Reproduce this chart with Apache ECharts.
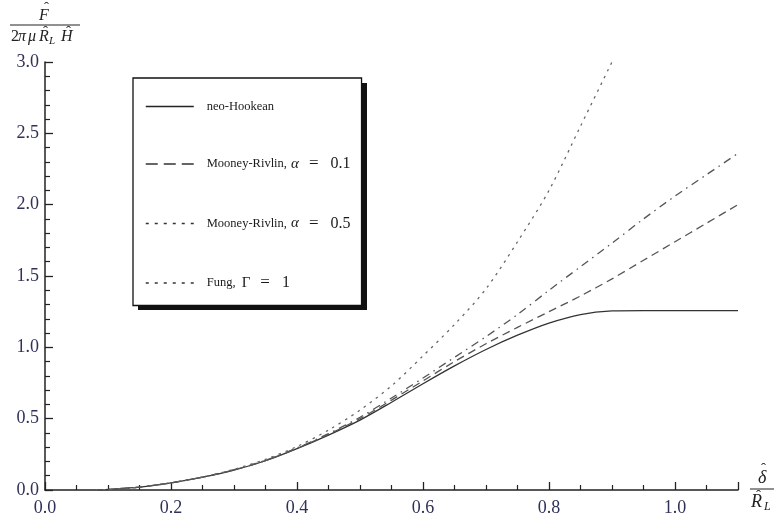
<!DOCTYPE html>
<html>
<head>
<meta charset="utf-8">
<script src="https://cdn.jsdelivr.net/npm/echarts@6/dist/echarts.min.js"></script>
<style>html,body{margin:0;padding:0;background:#fff;}#c{width:774px;height:521px;}</style>
</head>
<body>
<div id="c"></div>
<script>
// x values (δ̂ / R̂_L)
const xNeo = [0.08, 0.1, 0.15, 0.2, 0.25, 0.3, 0.35, 0.4, 0.45, 0.5, 0.55, 0.6, 0.65, 0.7, 0.75, 0.8, 0.85, 0.9, 0.95, 1.0, 1.05, 1.1];
const yNeo = [0, 0.004, 0.02, 0.05, 0.09, 0.14, 0.205, 0.29, 0.385, 0.49, 0.615, 0.745, 0.87, 0.985, 1.085, 1.17, 1.23, 1.255, 1.258, 1.258, 1.258, 1.258];
const xMR01 = [0.08, 0.1, 0.15, 0.2, 0.25, 0.3, 0.35, 0.4, 0.45, 0.5, 0.55, 0.6, 0.65, 0.7, 0.75, 0.8, 0.85, 0.9, 0.95, 1.0, 1.05, 1.1];
const yMR01 = [0, 0.004, 0.02, 0.05, 0.09, 0.141, 0.206, 0.292, 0.39, 0.5, 0.63, 0.765, 0.9, 1.025, 1.14, 1.25, 1.36, 1.48, 1.61, 1.74, 1.87, 2.0];
const xMR05 = [0.08, 0.1, 0.15, 0.2, 0.25, 0.3, 0.35, 0.4, 0.45, 0.5, 0.55, 0.6, 0.65, 0.7, 0.75, 0.8, 0.85, 0.9, 0.95, 1.0, 1.05, 1.1];
const yMR05 = [0, 0.004, 0.02, 0.05, 0.09, 0.142, 0.208, 0.295, 0.395, 0.51, 0.645, 0.785, 0.93, 1.075, 1.23, 1.4, 1.565, 1.73, 1.9, 2.06, 2.21, 2.36];
const xFung = [0.08, 0.1, 0.15, 0.2, 0.25, 0.3, 0.35, 0.4, 0.45, 0.5, 0.55, 0.6, 0.65, 0.7, 0.75, 0.8, 0.85, 0.9];
const yFung = [0, 0.004, 0.02, 0.05, 0.09, 0.145, 0.215, 0.305, 0.42, 0.56, 0.73, 0.94, 1.16, 1.41, 1.74, 2.1, 2.55, 3.0];
const xTicks = ['0.0', '0.2', '0.4', '0.6', '0.8', '1.0'];
const yTicks = ['0.0', '0.5', '1.0', '1.5', '2.0', '2.5', '3.0'];
const names = ['neo-Hookean', 'Mooney-Rivlin, α = 0.1', 'Mooney-Rivlin, α = 0.5', 'Fung, Γ = 1'];

const zip = (xs, ys) => xs.map((x, i) => [x, ys[i]]);
const serif = 'Liberation Serif';
const labelColor = '#2f3158';
const ink = '#1a1a1a';

const chart = echarts.init(document.getElementById('c'), null, {renderer: 'canvas'});
function mkSeries(name, data, color, width, dash) {
  return {
    name: name, type: 'line', data: data, smooth: 0.3, symbol: 'none', showSymbol: false,
    lineStyle: {color: color, width: width, type: dash},
    itemStyle: {color: color},
    z: 2
  };
}
function legendFmt(n) {
  if (n.indexOf(' = ') >= 0) {
    const p = n.split(' = ');
    const head = p[0];
    const sym = head.slice(-1);
    const text = head.slice(0, -1);
    const symStyle = sym === 'α' ? 'i' : 'g';
    return '{n|' + text + '}{' + symStyle + '|' + sym + '}{eq|=}{m|' + p[1] + '}';
  }
  return '{n|' + n + '}';
}
function tx(text, left, top, font) {
  return {type: 'text', left: left, top: top, z: 5, style: {text: text, font: font, fill: '#222'}};
}
const it16 = 'italic 16px "Liberation Serif"';
const rm16 = '16px "Liberation Serif"';
const it18 = 'italic 18px "Liberation Serif"';
const it11 = 'italic 11px "Liberation Serif"';
const it12 = 'italic 12px "Liberation Serif"';
const hat = '15px "Liberation Serif"';

chart.setOption({
  animation: false,
  backgroundColor: '#fff',
  grid: {left: 45, right: 36, top: 62, bottom: 31, containLabel: false},
  xAxis: {
    type: 'value', min: 0, max: 1.1, interval: 0.2,
    axisLine: {show: true, lineStyle: {color: '#222', width: 1.5}},
    axisTick: {show: true, inside: true, length: 8, lineStyle: {color: '#222', width: 1.3}},
    minorTick: {show: true, splitNumber: 4, length: 5, lineStyle: {color: '#222', width: 1.2}},
    splitLine: {show: false},
    axisLabel: {
      showMaxLabel: false, margin: 9, color: labelColor, fontFamily: serif, fontSize: 18,
      formatter: v => { const i = Math.round(v / 0.2); return Math.abs(v - i * 0.2) < 1e-6 ? xTicks[i] : ''; }
    }
  },
  yAxis: {
    type: 'value', min: 0, max: 3, interval: 0.5,
    axisLine: {show: true, lineStyle: {color: '#222', width: 1.5}},
    axisTick: {show: true, inside: true, length: 8, lineStyle: {color: '#222', width: 1.3}},
    minorTick: {show: true, splitNumber: 5, length: 5, lineStyle: {color: '#222', width: 1.2}},
    splitLine: {show: false},
    axisLabel: {
      margin: 6, color: labelColor, fontFamily: serif, fontSize: 18,
      formatter: v => yTicks[Math.round(v / 0.5)]
    }
  },
  legend: {
    orient: 'vertical', left: 133, top: 78, z: 10,
    itemWidth: 48, itemHeight: 14, itemGap: 42.5,
    padding: [22, 11, 14, 12],
    backgroundColor: '#fff', borderColor: '#111', borderWidth: 1.3, borderRadius: 0,
    itemStyle: {opacity: 0, borderWidth: 0},
    data: [
      {name: names[0], lineStyle: {type: 'solid', color: '#222', width: 1.4}},
      {name: names[1], lineStyle: {type: [12, 6], color: '#333', width: 1.5}},
      {name: names[2], lineStyle: {type: [3, 6], color: '#333', width: 1.3}},
      {name: names[3], lineStyle: {type: [3, 6], color: '#333', width: 1.3}}
    ],
    formatter: legendFmt,
    textStyle: {
      padding: [0, 0, 0, 8],
      rich: {
        n: {fontFamily: serif, fontSize: 12.5, color: ink},
        i: {fontFamily: serif, fontSize: 15, fontStyle: 'italic', color: ink, padding: [0, 0, 0, 1]},
        g: {fontFamily: serif, fontSize: 15, color: ink, padding: [0, 0, 0, 3]},
        eq: {fontFamily: serif, fontSize: 17, color: ink, padding: [0, 10, 0, 10]},
        m: {fontFamily: serif, fontSize: 16, color: ink, padding: [0, 0, 0, 2]}
      }
    }
  },
  graphic: [
    {type: 'rect', z: 1, shape: {x: 138, y: 83, width: 229, height: 227}, style: {fill: '#111'}},
    // y-axis title: F̂ / (2πμ R̂_L Ĥ)
    tx('F', 39, 8, it16),
    tx('ˆ', 44, 1, hat),
    {type: 'line', z: 5, shape: {x1: 10, y1: 25, x2: 80, y2: 25}, style: {stroke: '#222', lineWidth: 1}},
    tx('2', 11, 29, rm16),
    tx('π', 18, 29, it16),
    tx('μ', 28, 29, it16),
    tx('R', 39, 29, it16),
    tx('ˆ', 43, 25, hat),
    tx('L', 49, 36, it11),
    tx('H', 61, 29, it16),
    tx('ˆ', 66, 25, hat),
    // x-axis title: δ̂ / R̂_L
    tx('δ', 758, 469, it18),
    tx('ˆ', 761, 462, hat),
    {type: 'line', z: 5, shape: {x1: 750, y1: 489, x2: 774, y2: 489}, style: {stroke: '#222', lineWidth: 1}},
    tx('R', 751, 493, it18),
    tx('ˆ', 756, 489, hat),
    tx('L', 764, 501, it12)
  ],
  series: [
    mkSeries(names[0], zip(xNeo, yNeo), '#333', 1.3, 'solid'),
    mkSeries(names[1], zip(xMR01, yMR01), '#555', 1.3, [8, 5]),
    mkSeries(names[2], zip(xMR05, yMR05), '#555', 1.3, [8, 5, 1.5, 5]),
    mkSeries(names[3], zip(xFung, yFung), '#666', 1.3, [2.5, 5])
  ]
});
</script>
</body>
</html>
